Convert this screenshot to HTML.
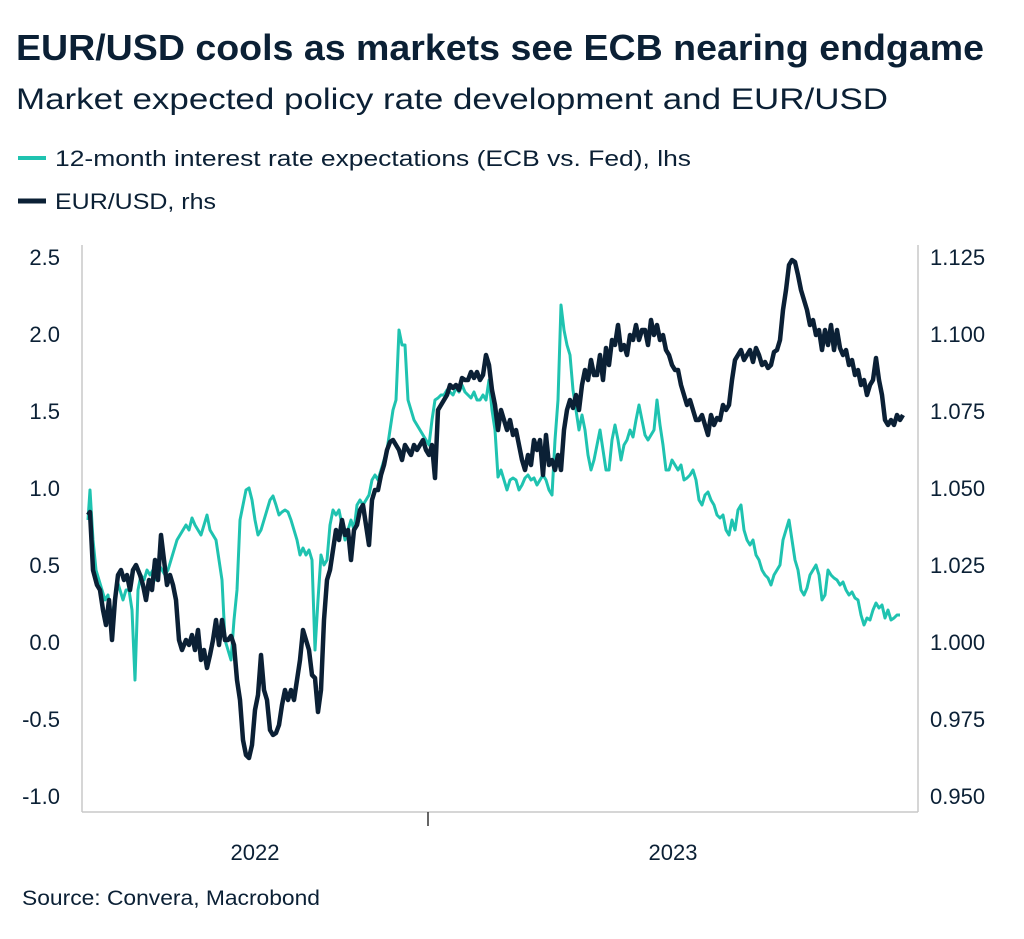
<!DOCTYPE html>
<html><head><meta charset="utf-8"><style>
body{margin:0;background:#fff;width:1024px;height:934px;overflow:hidden;font-family:"Liberation Sans",sans-serif;color:#0b2035}
svg text{font-family:"Liberation Sans",sans-serif;fill:#0b2035}
</style></head><body>
<svg width="1024" height="934" viewBox="0 0 1024 934">
<text x="16" y="60" font-size="36" font-weight="bold" textLength="968" lengthAdjust="spacingAndGlyphs">EUR/USD cools as markets see ECB nearing endgame</text>
<text x="16" y="109" font-size="30" textLength="872" lengthAdjust="spacingAndGlyphs">Market expected policy rate development and EUR/USD</text>
<line x1="18" y1="158" x2="46" y2="158" stroke="#1fc3b0" stroke-width="4"/>
<text x="55" y="166" font-size="22" textLength="636" lengthAdjust="spacingAndGlyphs">12-month interest rate expectations (ECB vs. Fed), lhs</text>
<line x1="18" y1="201" x2="46" y2="201" stroke="#0b2035" stroke-width="5"/>
<text x="55" y="209" font-size="22" textLength="161" lengthAdjust="spacingAndGlyphs">EUR/USD, rhs</text>
<g stroke="#c8c8c8" stroke-width="1.5" fill="none">
<line x1="82" y1="245" x2="82" y2="812"/>
<line x1="918" y1="245" x2="918" y2="812"/>
<line x1="82" y1="812" x2="918" y2="812"/>
</g>
<line x1="428" y1="812" x2="428" y2="826" stroke="#333" stroke-width="1.5"/>
<g font-size="22" text-anchor="end">
<text x="60" y="265">2.5</text><text x="60" y="342">2.0</text><text x="60" y="419">1.5</text><text x="60" y="496">1.0</text><text x="60" y="573">0.5</text><text x="60" y="650">0.0</text><text x="60" y="727">-0.5</text><text x="60" y="804">-1.0</text>
</g>
<g font-size="22">
<text x="930" y="265">1.125</text><text x="930" y="342">1.100</text><text x="930" y="419">1.075</text><text x="930" y="496">1.050</text><text x="930" y="573">1.025</text><text x="930" y="650">1.000</text><text x="930" y="727">0.975</text><text x="930" y="804">0.950</text>
</g>
<text x="255" y="860" font-size="22" text-anchor="middle">2022</text>
<text x="673" y="860" font-size="22" text-anchor="middle">2023</text>
<text x="22" y="905" font-size="21" textLength="298" lengthAdjust="spacingAndGlyphs">Source: Convera, Macrobond</text>
<polyline fill="none" stroke="#1fc3b0" stroke-width="3" stroke-linejoin="round" points="88,520 90,490 93,540 96,570 99,580 102,590 105,600 108,595 111,620 114,605 117,580 120,590 123,600 126,590 129,590 132,610 135,680 138,590 141,575 144,580 147,570 150,575 153,570 156,580 159,565 162,570 165,575 168,570 171,560 174,550 177,540 180,535 183,530 186,525 189,530 192,518 195,525 198,530 201,535 204,525 207,515 210,530 213,535 216,540 219,560 222,580 225,640 228,650 231,660 234,620 237,590 240,520 243,505 246,490 249,488 252,500 255,520 258,535 261,530 264,520 267,510 270,500 273,496 276,505 279,515 282,512 285,510 288,512 291,520 294,530 297,540 300,555 303,548 306,555 309,550 312,560 315,650 318,600 321,555 324,565 327,560 330,525 333,510 336,515 339,510 342,525 345,540 348,530 351,520 354,530 357,505 360,500 363,505 366,500 369,495 372,480 375,475 378,480 381,470 384,460 387,450 390,430 393,410 396,400 399,330 402,345 405,345 408,400 411,410 414,420 417,425 420,430 423,435 426,440 429,445 432,420 435,400 438,398 441,395 444,395 447,390 450,392 453,395 456,388 459,392 462,385 465,392 468,395 471,398 474,392 477,400 480,400 483,395 486,400 489,380 492,410 495,430 498,477 501,470 504,480 507,490 510,480 513,478 516,480 519,490 522,485 525,478 528,475 531,480 534,478 537,485 540,480 543,475 546,480 549,490 552,495 555,440 558,400 561,305 564,330 567,345 570,355 573,390 576,410 579,430 582,415 585,430 588,455 591,470 594,460 597,445 600,430 603,450 606,470 609,470 612,440 615,425 618,440 621,460 624,445 627,440 630,430 633,437 636,420 639,405 642,420 645,435 648,440 651,435 654,430 657,400 660,425 663,445 666,470 669,470 672,460 675,465 678,470 681,465 684,480 687,478 690,475 693,470 696,480 699,500 702,505 705,495 708,492 711,500 714,505 717,515 720,518 723,515 726,530 729,535 732,520 735,530 738,510 741,505 744,530 747,540 750,545 753,540 756,555 759,560 762,570 765,575 768,578 771,585 774,575 777,570 780,565 783,540 786,530 789,520 792,540 795,560 798,570 801,590 804,595 807,588 810,575 813,570 816,565 819,575 822,600 825,595 828,570 831,575 834,578 837,580 840,585 843,582 846,590 849,595 852,592 855,598 858,600 861,615 864,625 867,618 870,620 873,610 876,603 879,608 882,605 885,618 888,610 891,620 894,618 897,615 900,615"/>
<polyline fill="none" stroke="#0b2035" stroke-width="4.5" stroke-linejoin="round" points="88,515 90,512 93,570 97,585 100,590 103,610 106,625 109,600 112,640 115,600 118,575 121,570 124,580 127,575 130,590 133,570 136,565 140,575 143,585 146,600 149,580 152,590 155,560 158,580 161,535 164,560 167,585 170,575 173,585 176,600 179,640 182,650 186,640 189,645 192,635 195,650 198,630 201,660 204,650 207,668 210,655 213,640 216,620 219,645 222,620 225,640 228,640 231,636 234,645 237,680 240,700 243,740 246,755 249,758 252,745 255,710 258,695 261,655 264,690 267,700 270,730 273,735 276,733 279,725 282,705 285,690 288,700 291,690 294,700 297,680 300,660 303,630 306,640 309,650 312,675 315,678 318,712 321,690 324,620 327,580 330,570 333,550 336,530 339,540 342,520 345,535 348,530 351,560 354,530 357,525 360,510 363,505 366,525 369,545 372,500 375,490 378,490 381,475 384,465 387,450 390,442 393,440 396,445 399,450 402,460 405,445 408,450 411,455 414,445 417,450 420,445 423,440 426,450 429,455 432,445 435,478 438,410 441,405 444,400 447,395 450,385 453,388 456,385 459,390 462,378 465,380 468,380 471,372 474,378 477,372 480,380 483,375 486,355 489,365 492,390 495,405 498,430 501,410 504,420 507,430 510,420 513,435 516,430 519,445 522,460 525,470 528,455 531,465 534,440 537,450 540,440 543,475 546,435 549,465 552,460 555,470 558,455 561,470 564,430 567,410 570,400 573,408 576,395 579,410 582,385 585,370 588,380 591,360 594,375 597,375 600,355 603,380 606,348 609,365 612,340 615,345 618,325 621,350 624,345 627,355 630,335 633,340 636,325 639,340 642,330 645,330 648,345 651,320 654,335 657,325 660,340 663,335 666,350 669,355 672,365 675,370 678,370 681,385 684,395 687,405 690,400 693,410 696,420 699,420 702,415 705,425 708,435 711,415 714,425 717,418 720,420 723,405 726,410 729,405 732,380 735,360 738,355 741,350 744,360 747,355 750,350 753,362 756,348 759,355 762,365 765,362 768,368 771,365 774,352 777,350 780,340 783,310 786,290 789,265 792,260 795,262 798,275 801,290 804,300 807,310 810,325 813,320 816,335 819,330 822,350 825,330 828,345 831,325 834,350 837,330 840,348 843,355 846,350 849,365 852,360 855,375 858,370 861,385 864,380 867,395 870,385 873,380 876,358 879,380 882,395 885,420 888,425 891,420 894,425 897,415 900,420 903,415"/>
</svg>
</body></html>
